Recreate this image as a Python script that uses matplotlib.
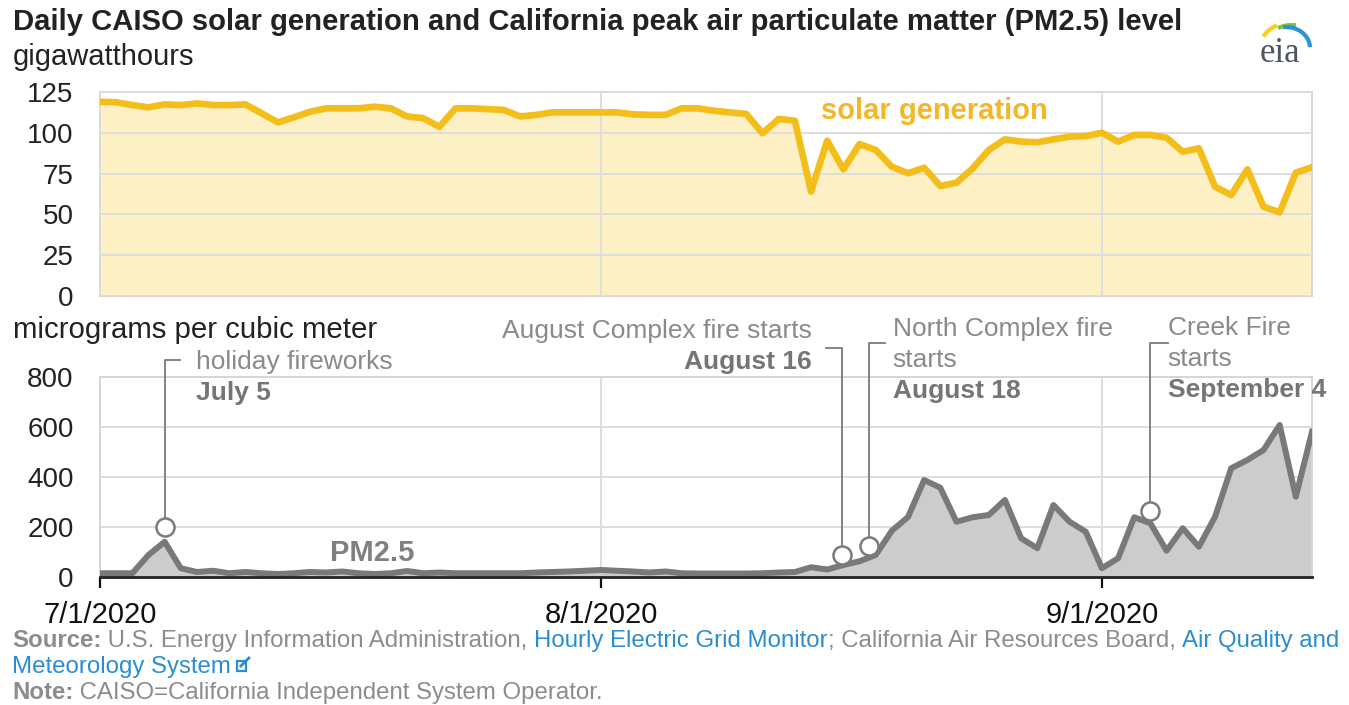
import numpy as np
import pandas as pd
import matplotlib
matplotlib.use("Agg")
import matplotlib.pyplot as plt
import matplotlib.dates as mdates
from matplotlib.lines import Line2D
from matplotlib.patches import Arc, Rectangle

plt.rcParams['font.family'] = ['Liberation Sans', 'DejaVu Sans']

# daily values, 7/1/2020 - 9/14/2020
days = pd.date_range('2020-07-01', periods=76, freq='D')

solar_gwh = [119, 118.7, 117, 115.6, 117.4, 117, 118, 117, 117, 117.4,
             112, 106.4, 109.5, 112.9, 115, 115, 115, 116, 115, 110,
             109, 103.7, 115, 115, 114.5, 114, 110, 111, 112.5, 112.5,
             112.5, 112.5, 112.5, 111.3, 111, 111, 115, 115, 113.5, 112.5,
             111.5, 99.7, 108.5, 107.4, 64, 95.2, 77.6, 93.1, 89.5, 79.2,
             75.2, 78.6, 67.4, 69.4, 78.2, 89.5, 96, 94.6, 94.2, 96,
             97.6, 98, 100, 94.6, 98.7, 98.7, 97, 88.4, 90.5, 67,
             61.9, 77.6, 54.7, 51.3, 75.6, 78.9]

pm25 = [15, 15, 15, 88, 141, 35, 20, 25, 15, 20,
        15, 12, 15, 20, 18, 22, 15, 12, 15, 24,
        15, 18, 15, 15, 15, 15, 15, 18, 20, 22,
        25, 28, 25, 22, 18, 22, 15, 14, 14, 14,
        14, 15, 18, 20, 39, 30, 48, 63, 88, 185,
        240, 388, 357, 221, 239, 248, 308, 155, 115, 288,
        221, 181, 35, 75, 239, 215, 105, 195, 121, 241,
        435, 468, 508, 608, 321, 581]

tick_dates = ['2020-07-01', '2020-08-01', '2020-09-01']
tick_labels = ['7/1/2020', '8/1/2020', '9/1/2020']

# fire / event call-outs: (date, marker value, text lines)
events = [
    ('2020-07-05', 200, ['holiday fireworks', 'July 5']),
    ('2020-08-16', 90, ['August Complex fire starts', 'August 16']),
    ('2020-08-18', 125, ['North Complex fire', 'starts', 'August 18']),
    ('2020-09-04', 265, ['Creek Fire', 'starts', 'September 4']),
]

W, H = 1349, 705
fig = plt.figure(figsize=(W / 100, H / 100), dpi=100)


def fbox(left, top, right, bottom):
    return [left / W, 1 - bottom / H, (right - left) / W, (bottom - top) / H]


grid_c = '#dedede'
x_ticks = [pd.Timestamp(d) for d in tick_dates]
x0, x1 = days[0], days[-1]

# ---- solar generation panel
ax1 = fig.add_axes(fbox(100, 92, 1312, 296))
ax1.fill_between(days, solar_gwh, 0, color='#fcf0c4', lw=0, zorder=1)
ax1.plot(days, solar_gwh, color='#f4be1a', lw=4.8, zorder=3)
ax1.set_xlim(x0, x1)
ax1.set_ylim(0, 125)
ax1.set_yticks([0, 25, 50, 75, 100, 125])
ax1.set_xticks(x_ticks)
ax1.tick_params(axis='x', length=0, labelbottom=False)
ax1.tick_params(axis='y', length=0, pad=19, labelsize=20, labelcolor='#222222')
ax1.grid(True, color=grid_c, lw=1.4, zorder=2)
ax1.set_axisbelow(False)
for sp in ax1.spines.values():
    sp.set_color('#d6d6d6')
    sp.set_linewidth(1.4)
ax1.text(0.595, 0.905, 'solar generation', transform=ax1.transAxes,
         color='#f4b728', fontsize=21, fontweight='bold', va='center', ha='left')

# ---- PM2.5 panel
ax2 = fig.add_axes(fbox(100, 377, 1312, 577))
ax2.fill_between(days, pm25, 0, color='#cccccc', lw=0, zorder=1)
ax2.plot(days, pm25, color='#797979', lw=4.3, zorder=3)
ax2.set_xlim(x0, x1)
ax2.set_ylim(0, 800)
ax2.set_yticks([0, 200, 400, 600, 800])
ax2.set_xticks(x_ticks)
ax2.set_xticklabels(tick_labels)
ax2.tick_params(axis='x', length=8, width=1.6, color='#111111', pad=9,
                labelsize=21, labelcolor='#111111')
ax2.tick_params(axis='y', length=0, pad=19, labelsize=20, labelcolor='#222222')
ax2.grid(True, color=grid_c, lw=1.4, zorder=0)
ax2.set_axisbelow(True)
for side in ['left', 'right', 'top']:
    ax2.spines[side].set_color('#d6d6d6')
    ax2.spines[side].set_linewidth(1.4)
ax2.spines['bottom'].set_color('#222222')
ax2.spines['bottom'].set_linewidth(2)
ax2.spines['bottom'].set_zorder(4)
ax2.text(0.19, 0.12, 'PM2.5', transform=ax2.transAxes, color='#808080',
         fontsize=21, fontweight='bold', va='center', ha='left')

# ---- call-outs
lead_c = '#7a7a7a'
txt_c = '#8a8a8a'
bold_c = '#757575'
# marker x offsets (days), leader top (value), elbow end (days), text x (days),
# text alignment, first text line value
callout_geom = [
    (0.0, 868, 0.95, 1.95, 'left', 860),
    (-0.1, 917, -1.0, -1.85, 'right', 984),
    (-0.4, 936, 1.0, 1.45, 'left', 992),
    (0.0, 936, 1.07, 1.07, 'left', 996),
]
line_step = 124
for (date, val, lines), (dx, top, elb, tx, ha, ty) in zip(events, callout_geom):
    xd = mdates.date2num(pd.Timestamp(date)) + dx
    ax2.plot([xd, xd, xd + elb], [val, top, top], color=lead_c, lw=1.3,
             clip_on=False, zorder=5)
    ax2.plot([xd], [val], 'o', ms=13, mfc='white', mec=lead_c, mew=1.8,
             clip_on=False, zorder=6)
    for i, s in enumerate(lines):
        last = i == len(lines) - 1
        ax2.text(xd + tx, ty - i * line_step, s, ha=ha, va='center',
                 fontsize=19, color=bold_c if last else txt_c,
                 fontweight='bold' if last else 'normal', clip_on=False)

# ---- titles
fig.text(13 / W, 1 - 22 / H, 'Daily CAISO solar generation and California peak '
         'air particulate matter (PM2.5) level', fontsize=21.1, fontweight='bold',
         color='#222222', va='center', ha='left')
fig.text(13 / W, 1 - 57 / H, 'gigawatthours', fontsize=21, color='#222222',
         va='center', ha='left')
fig.text(13 / W, 1 - 330 / H, 'micrograms per cubic meter', fontsize=21.2,
         color='#222222', va='center', ha='left')

# ---- source / note lines
gray = '#8c8c8c'
blue = '#2a8dd4'
renderer = fig.canvas.get_renderer()


def put_pieces(x_px, y_px, pieces, size=17.3):
    x = x_px
    for s, color, weight in pieces:
        t = fig.text(x / W, 1 - y_px / H, s, color=color, fontweight=weight,
                     fontsize=size, va='baseline', ha='left')
        x = t.get_window_extent(renderer).x1
    return x


put_pieces(12, 647, [('Source:', gray, 'bold'),
                     (' U.S. Energy Information Administration, ', gray, 'normal'),
                     ('Hourly Electric Grid Monitor', blue, 'normal'),
                     ('; California Air Resources Board, ', gray, 'normal'),
                     ('Air Quality and', blue, 'normal')])
xe = put_pieces(12, 673, [('Meteorology System', blue, 'normal')])
# small external-link icon
ix, iy, sz = xe + 6, 673 - 14, 12
fig.add_artist(Rectangle((ix / W, 1 - (iy + sz) / H), sz * 0.8 / W, sz * 0.8 / H,
                         transform=fig.transFigure, fill=False, ec=blue, lw=1.6))
fig.add_artist(Line2D([(ix + 4) / W, (ix + sz) / W],
                      [1 - (iy + 7) / H, 1 - (iy - 1) / H],
                      transform=fig.transFigure, color=blue, lw=2))
put_pieces(12, 699, [('Note:', gray, 'bold'),
                     (' CAISO=California Independent System Operator.', gray, 'normal')])

# ---- eia logo
lax = fig.add_axes(fbox(1240, 8, 1330, 72))
lax.set_xlim(0, 90)
lax.set_ylim(64, 0)
lax.axis('off')
lax.text(40, 45, 'eia', family=['Liberation Serif', 'DejaVu Serif'],
         fontsize=25, color='#4b5563', ha='center', va='center')
lax.add_patch(Arc((50, 40), 60, 50, theta1=203, theta2=240, color='#f5d21a', lw=3))
lax.add_patch(Arc((52, 40), 56, 46, theta1=235, theta2=280, color='#80c342', lw=3))
lax.add_patch(Arc((46, 40), 48, 42, theta1=262, theta2=358, color='#2a93d5', lw=3))

fig.savefig('out.png', dpi=100)
